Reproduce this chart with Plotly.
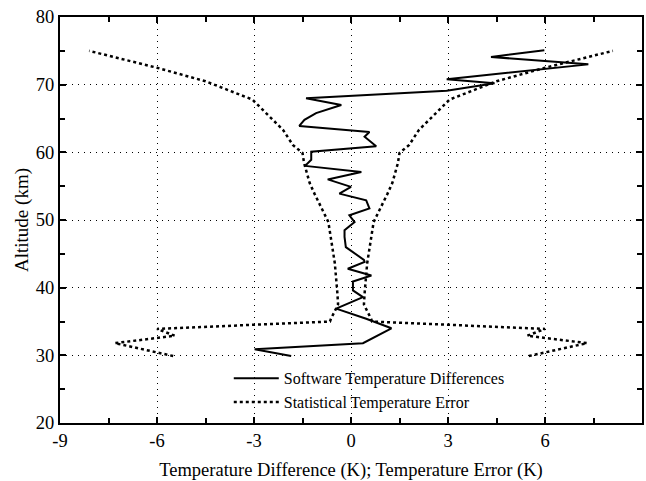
import plotly.graph_objects as go

# Software temperature differences (K) vs altitude (km)
diff_alt = [29.9, 30.9, 31.8, 34.0, 35.4, 36.9, 38.6, 39.6, 40.9, 41.8, 42.8, 43.8, 44.1,
            46.0, 47.5, 48.5, 49.7, 50.7, 51.7, 52.9, 53.9, 54.9, 56.0, 57.1, 58.0,
            58.9, 60.1, 60.9, 62.3, 63.0, 63.9, 64.8, 65.8, 67.0, 68.0, 69.1, 70.2,
            70.8, 73.0, 74.1, 75.1]
diff_val = [-1.85, -2.98, 0.37, 1.25, 0.47, -0.46, 0.37, 0.06, 0.06, 0.63, -0.1, 0.42, 0.4,
            -0.16, -0.2, -0.2, 0.11, -0.05, 0.57, 0.47, -0.36, 0.0, -0.72, 0.32, -1.42,
            -1.23, -1.23, 0.78, 0.42, 0.57, -1.6, -1.44, -1.08, -0.3, -1.39, 2.96, 4.44,
            2.96, 7.34, 4.33, 5.98]

# Statistical temperature error (K), plotted as +/- envelope
err_alt = [29.9, 30.4, 31.8, 32.9, 33.9, 35.0, 35.4, 37.5, 39.1, 43.6, 47.0, 49.7,
           53.9, 55.5, 58.4, 59.9, 61.1, 63.3, 67.8, 70.5, 72.5, 75.0]
err_val = [5.5, 5.95, 7.3, 5.45, 6.0, 0.65, 0.62, 0.4, 0.42, 0.5, 0.6, 0.7,
           1.13, 1.28, 1.45, 1.5, 1.8, 2.1, 3.05, 4.5, 6.0, 8.1]

x_ticks = [-9, -6, -3, 0, 3, 6, 9]
y_ticks = [20, 30, 40, 50, 60, 70, 80]

FONT = "Liberation Serif"

fig = go.Figure()
fig.add_trace(go.Scatter(x=diff_val, y=diff_alt, mode="lines",
                         line=dict(color="black", width=2),
                         name="Software Temperature Differences"))
fig.add_trace(go.Scatter(x=[-v for v in err_val], y=err_alt, mode="lines",
                         line=dict(color="black", width=2.5, dash="3px,3px"),
                         name="Statistical Temperature Error"))
fig.add_trace(go.Scatter(x=err_val, y=err_alt, mode="lines",
                         line=dict(color="black", width=2.5, dash="3px,3px"),
                         name="Statistical Temperature Error", showlegend=False))

axis_common = dict(showline=True, linecolor="black", linewidth=2, mirror="allticks",
                   ticks="inside", ticklen=6, tickcolor="black", tickwidth=1.5,
                   showgrid=True, gridcolor="black", gridwidth=1, griddash="1px,5px",
                   zeroline=False, automargin=False,
                   tickfont=dict(family=FONT, size=18.5, color="black"))

fig.update_xaxes(range=[-9, 9], tickvals=x_ticks, ticktext=[str(v) for v in x_ticks],
                 minor=dict(dtick=1.5, tick0=-9, ticks="inside", ticklen=5, tickcolor="black", showgrid=False),
                 title=dict(text="Temperature Difference (K); Temperature Error (K)",
                            font=dict(family=FONT, size=18.5, color="black"), standoff=14),
                 **axis_common)
fig.update_yaxes(range=[20, 80], tickvals=y_ticks, ticktext=[str(v) for v in y_ticks],
                 minor=dict(dtick=5, tick0=20, ticks="inside", ticklen=5, tickcolor="black", showgrid=False),
                 title=dict(text="Altitude (km)", font=dict(family=FONT, size=19, color="black"), standoff=2),
                 **axis_common)

fig.update_layout(width=646, height=481, margin=dict(l=60, r=4, t=17, b=58),
                  paper_bgcolor="white", plot_bgcolor="white",
                  font=dict(family=FONT, color="black"),
                  legend=dict(x=0.29, y=0.152, xanchor="left", yanchor="top",
                              bgcolor="rgba(0,0,0,0)", borderwidth=0,
                              font=dict(family=FONT, size=16, color="black"),
                              tracegroupgap=0, itemwidth=45))

fig.write_html("out.html")
